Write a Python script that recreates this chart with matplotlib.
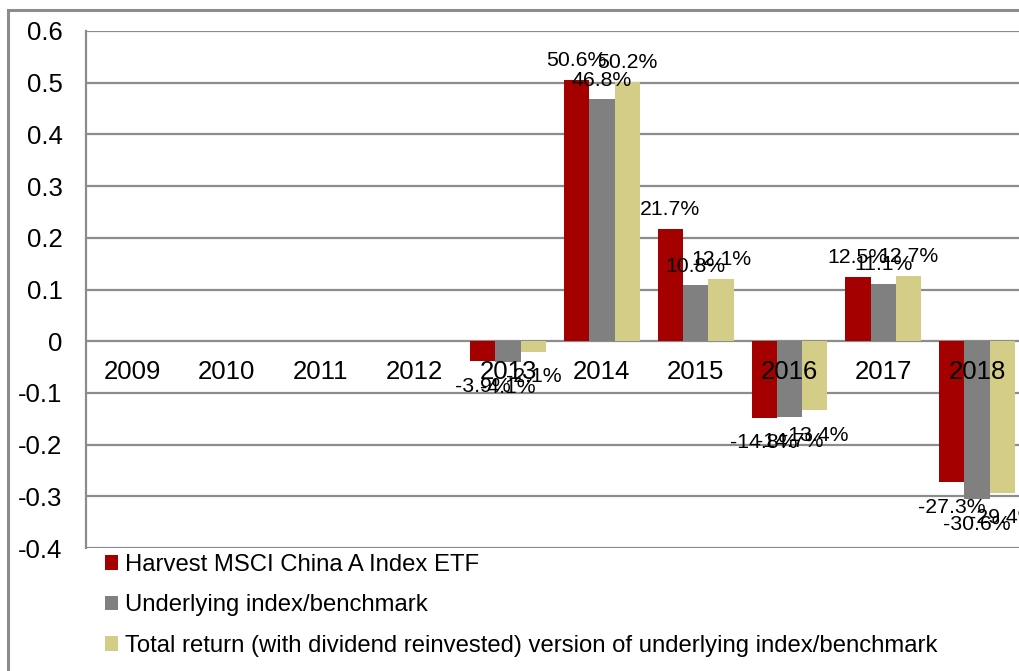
import matplotlib.pyplot as plt
import numpy as np
from matplotlib.patches import Rectangle

plt.rcParams['font.family'] = ['Liberation Sans', 'DejaVu Sans']

years = ['2009', '2010', '2011', '2012', '2013', '2014', '2015', '2016', '2017', '2018']
etf = [np.nan, np.nan, np.nan, np.nan, -0.039, 0.506, 0.217, -0.148, 0.125, -0.273]
underlying = [np.nan, np.nan, np.nan, np.nan, -0.041, 0.468, 0.108, -0.147, 0.111, -0.306]
total_ret = [np.nan, np.nan, np.nan, np.nan, -0.021, 0.502, 0.121, -0.134, 0.127, -0.294]
names = ['Harvest MSCI China A Index ETF',
         'Underlying index/benchmark',
         'Total return (with dividend reinvested) version of underlying index/benchmark']
colors = ['#A50000', '#808080', '#D4CD88']

fig = plt.figure(figsize=(10.19, 6.71), dpi=100)
# outer chart border (runs off the right/bottom of the image)
fig.patches.append(Rectangle((8 / 1019, -0.1), 1.2, 1 - 10 / 671 + 0.1,
                             transform=fig.transFigure, fill=False,
                             edgecolor='#8c8c8c', linewidth=2.2))

ax = fig.add_axes([86 / 1019, 1 - 548 / 671, 938 / 1019, 517 / 671])
x = np.arange(len(years))
w = 0.27
series = [etf, underlying, total_ret]
bars = []
for k, (vals, c, nm) in enumerate(zip(series, colors, names)):
    b = ax.bar(x + (k - 1) * w, vals, w, color=c, label=nm, zorder=3)
    bars.append(b)
    for xi, v in zip(x + (k - 1) * w, vals):
        if np.isnan(v):
            continue
        off = 7 if v >= 0 else -11
        ax.annotate(f'{v * 100:.1f}%', (xi, v), xytext=(0, off), textcoords='offset points',
                    ha='center', va='bottom' if v >= 0 else 'top', fontsize=15.3,
                    zorder=5, annotation_clip=False)

# category labels sit just under the zero line
for xi, yr in zip(x, years):
    ax.annotate(yr, (xi, 0), xytext=(0, -22), textcoords='offset points',
                ha='center', va='center', fontsize=18.5, zorder=4)

ax.set_xlim(-0.5, len(years) - 0.5)
ax.set_ylim(-0.4, 0.6)
ax.set_yticks(np.arange(-0.4, 0.61, 0.1))
ax.set_yticklabels(['-0.4', '-0.3', '-0.2', '-0.1', '0', '0.1', '0.2', '0.3', '0.4', '0.5', '0.6'])
ax.tick_params(axis='y', length=0, pad=17, labelsize=18.5)
ax.set_xticks([])
ax.grid(axis='y', color='#8c8c8c', linewidth=1.6, zorder=1)
for s in ['top', 'right', 'bottom']:
    ax.spines[s].set_visible(False)
ax.spines['left'].set_color('#8c8c8c')
ax.spines['left'].set_linewidth(1.6)

fig.legend(handles=bars, labels=names, loc='upper left',
           bbox_to_anchor=(100 / 1019, 1 - 549 / 671), frameon=False, fontsize=17.2,
           handlelength=0.55, handleheight=0.55, handletextpad=0.3, labelspacing=0.78,
           borderaxespad=0, borderpad=0.2)

fig.savefig('out.png', dpi=100)
